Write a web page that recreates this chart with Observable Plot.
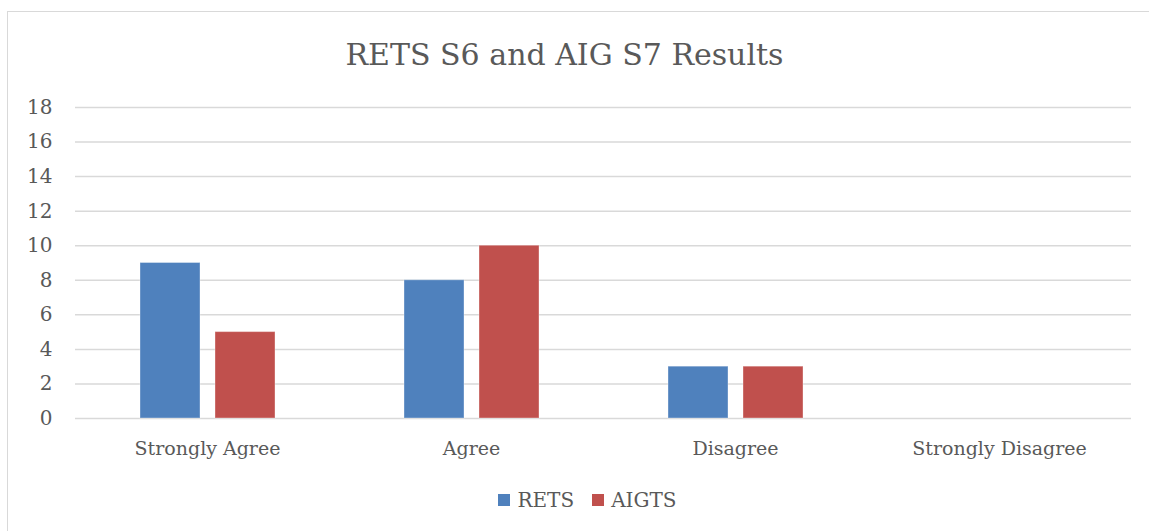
<!DOCTYPE html>
<html>
<head>
<meta charset="utf-8">
<script src="https://cdn.jsdelivr.net/npm/d3@7"></script>
<script src="https://cdn.jsdelivr.net/npm/@observablehq/plot@0.6"></script>
<style>
  html, body { margin: 0; padding: 0; background: #fff; }
  body { width: 1149px; height: 531px; position: relative; overflow: hidden; font-family: "DejaVu Serif", "Liberation Serif", serif; color: #595959; }
  #frame { position: absolute; left: 7px; top: 11px; width: 1160px; height: 540px; border: 1.5px solid #d9d9d9; box-sizing: border-box; }
  #title { position: absolute; left: 0; width: 1129px; top: 37px; text-align: center; font-size: 30px; color: #595959; }
  #chart { position: absolute; left: 0; top: 0; }
  #legend { position: absolute; left: 0; width: 1149px; top: 488px; display: flex; justify-content: center; align-items: center; font-size: 20px; color: #595959; padding-left: 26px; box-sizing: border-box; }
  .item { display: flex; align-items: center; margin: 0 9px; }
  .sw { width: 12px; height: 12px; margin-right: 7px; }
</style>
</head>
<body>
<div id="frame"></div>
<div id="chart"></div>
<div id="title">RETS S6 and AIG S7 Results</div>
<div id="legend"></div>
<script>
const categories = ["Strongly Agree", "Agree", "Disagree", "Strongly Disagree"];
const series = ["RETS", "AIGTS"];
const retsValues = [9, 8, 3, 0];
const aigtsValues = [5, 10, 3, 0];
const colors = ["#4f81bd", "#c0504d"];
const yTicks = [0, 2, 4, 6, 8, 10, 12, 14, 16, 18];

const data = [];
categories.forEach((c, i) => {
  data.push({category: c, series: "RETS", value: retsValues[i]});
  data.push({category: c, series: "AIGTS", value: aigtsValues[i]});
});

const chart = Plot.plot({
  width: 1149,
  height: 470,
  marginTop: 107,
  marginBottom: 52,
  marginLeft: 74,
  marginRight: 18,
  style: {fontFamily: "DejaVu Serif, serif", fontSize: "19px", color: "#595959", background: "transparent"},
  fx: {domain: categories, padding: 0, label: null},
  x: {domain: series, paddingInner: 0.2, paddingOuter: 0.84, axis: null},
  y: {domain: [0, 18], ticks: yTicks, label: null},
  color: {domain: series, range: colors},
  marks: [
    Plot.gridY(yTicks, {stroke: "#d9d9d9", strokeOpacity: 1, strokeWidth: 1.5}),
    Plot.axisY(yTicks, {tickSize: 0, tickPadding: 23, fontSize: 20, fill: "#595959"}),
    Plot.axisFx({anchor: "bottom", tickSize: 0, tickPadding: 23, fontSize: 19, fill: "#595959", label: null}),
    Plot.barY(data, {fx: "category", x: "series", y: "value", fill: "series", stroke: "#ffffff", strokeOpacity: 0.35, strokeWidth: 1})
  ]
});
document.getElementById("chart").appendChild(chart);

const legend = document.getElementById("legend");
series.forEach((s, i) => {
  const item = document.createElement("div");
  item.className = "item";
  const sw = document.createElement("div");
  sw.className = "sw";
  sw.style.background = colors[i];
  const t = document.createElement("span");
  t.textContent = s;
  item.appendChild(sw);
  item.appendChild(t);
  legend.appendChild(item);
});
</script>
</body>
</html>
